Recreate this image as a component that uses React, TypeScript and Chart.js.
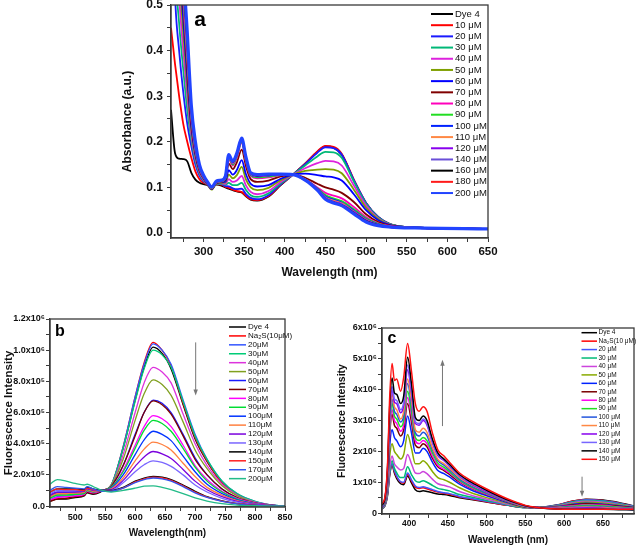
import React, { useEffect, useRef } from "react";
import { Chart, registerables } from "chart.js";

Chart.register(...registerables);

const FONT = "'Liberation Sans', Arial, Helvetica, sans-serif";

/* ---------------- Panel a : absorbance ---------------- */
const XA = [260, 265, 270, 275, 280, 285, 290, 295, 300, 305, 310, 316, 322, 327, 331, 336, 341, 347, 352, 358, 366, 380, 395, 410, 425, 440, 450, 460, 470, 485, 500, 515, 530, 560, 650];
const A_LABELS = ["Dye 4", "10 μM", "20 μM", "30 μM", "40 μM", "50 μM", "60 μM", "70 μM", "80 μM", "90 μM", "100 μM", "110 μM", "120 μM", "140 μM", "160 μM", "180 μM", "200 μM"];
const A_COLORS = ["#000000", "#ff0000", "#1a1aff", "#00b877", "#dd22dd", "#7fa000", "#0000ff", "#800000", "#ff00bb", "#22dd22", "#0022ff", "#ff8844", "#8800ee", "#6a4fd8", "#000000", "#ff1a1a", "#2244ff"];
const A_DYE4 = [0.27, 0.175, 0.163, 0.162, 0.157, 0.132, 0.117, 0.11, 0.107, 0.105, 0.102, 0.106, 0.104, 0.1, 0.097, 0.094, 0.091, 0.089, 0.081, 0.073, 0.071, 0.08, 0.105, 0.128, 0.152, 0.178, 0.19, 0.187, 0.172, 0.115, 0.065, 0.034, 0.019, 0.012, 0.009];
const A_10 = [0.45, 0.37, 0.3, 0.24, 0.2, 0.165, 0.135, 0.118, 0.11, 0.106, 0.101, 0.107, 0.106, 0.101, 0.099, 0.095, 0.092, 0.09, 0.082, 0.074, 0.072, 0.081, 0.106, 0.128, 0.152, 0.179, 0.191, 0.189, 0.174, 0.117, 0.066, 0.035, 0.019, 0.012, 0.009];
const A_20 = [0.85, 0.52, 0.4, 0.31, 0.24, 0.19, 0.15, 0.126, 0.113, 0.107, 0.1, 0.108, 0.107, 0.103, 0.102, 0.098, 0.096, 0.097, 0.086, 0.077, 0.074, 0.083, 0.107, 0.128, 0.151, 0.176, 0.188, 0.186, 0.172, 0.116, 0.066, 0.035, 0.019, 0.012, 0.009];
const A_30 = [1.0, 0.6, 0.46, 0.36, 0.27, 0.205, 0.158, 0.13, 0.115, 0.106, 0.097, 0.108, 0.108, 0.106, 0.11, 0.105, 0.105, 0.11, 0.095, 0.083, 0.079, 0.087, 0.109, 0.128, 0.148, 0.168, 0.178, 0.177, 0.165, 0.113, 0.064, 0.034, 0.019, 0.012, 0.009];
const A_40 = [1.1, 0.7, 0.52, 0.4, 0.3, 0.215, 0.163, 0.133, 0.117, 0.106, 0.096, 0.109, 0.109, 0.108, 0.118, 0.112, 0.115, 0.125, 0.105, 0.09, 0.085, 0.092, 0.112, 0.128, 0.142, 0.153, 0.158, 0.157, 0.148, 0.104, 0.06, 0.032, 0.018, 0.012, 0.009];
const A_50 = [1.2, 0.8, 0.58, 0.44, 0.32, 0.225, 0.168, 0.135, 0.119, 0.106, 0.095, 0.109, 0.11, 0.111, 0.128, 0.12, 0.127, 0.145, 0.118, 0.1, 0.094, 0.099, 0.116, 0.128, 0.136, 0.139, 0.14, 0.139, 0.131, 0.095, 0.055, 0.03, 0.018, 0.012, 0.009];
const A_60 = [1.25, 0.9, 0.62, 0.47, 0.34, 0.232, 0.172, 0.137, 0.12, 0.107, 0.096, 0.11, 0.111, 0.113, 0.138, 0.128, 0.138, 0.16, 0.13, 0.108, 0.102, 0.105, 0.119, 0.128, 0.13, 0.127, 0.124, 0.122, 0.115, 0.085, 0.05, 0.028, 0.017, 0.012, 0.009];
const A_70 = [1.3, 1.0, 0.68, 0.5, 0.36, 0.24, 0.176, 0.139, 0.121, 0.108, 0.097, 0.11, 0.112, 0.117, 0.152, 0.14, 0.155, 0.183, 0.148, 0.118, 0.112, 0.115, 0.124, 0.128, 0.121, 0.108, 0.1, 0.095, 0.088, 0.068, 0.041, 0.024, 0.016, 0.011, 0.009];
const A_80 = [1.35, 1.05, 0.75, 0.52, 0.38, 0.25, 0.18, 0.141, 0.122, 0.109, 0.098, 0.111, 0.113, 0.12, 0.162, 0.148, 0.165, 0.198, 0.158, 0.125, 0.12, 0.122, 0.127, 0.128, 0.118, 0.1, 0.088, 0.082, 0.076, 0.057, 0.035, 0.021, 0.015, 0.011, 0.009];
const A_90 = [1.4, 1.1, 0.8, 0.53, 0.39, 0.255, 0.183, 0.143, 0.123, 0.11, 0.098, 0.111, 0.113, 0.121, 0.165, 0.15, 0.168, 0.2, 0.161, 0.127, 0.122, 0.124, 0.127, 0.128, 0.117, 0.098, 0.083, 0.076, 0.07, 0.052, 0.032, 0.02, 0.014, 0.011, 0.009];
const A_100 = [1.4, 1.1, 0.82, 0.54, 0.4, 0.26, 0.185, 0.144, 0.124, 0.11, 0.099, 0.112, 0.114, 0.122, 0.167, 0.152, 0.17, 0.203, 0.163, 0.128, 0.124, 0.126, 0.128, 0.128, 0.117, 0.097, 0.08, 0.073, 0.067, 0.049, 0.03, 0.019, 0.014, 0.011, 0.009];
const A_110 = [1.45, 1.15, 0.85, 0.55, 0.4, 0.263, 0.187, 0.145, 0.124, 0.111, 0.099, 0.112, 0.114, 0.123, 0.168, 0.153, 0.171, 0.204, 0.164, 0.129, 0.125, 0.127, 0.128, 0.128, 0.117, 0.096, 0.078, 0.071, 0.065, 0.047, 0.029, 0.018, 0.014, 0.011, 0.009];
const A_120 = [1.45, 1.15, 0.86, 0.56, 0.41, 0.266, 0.189, 0.146, 0.125, 0.111, 0.1, 0.112, 0.114, 0.123, 0.169, 0.154, 0.172, 0.205, 0.165, 0.13, 0.125, 0.127, 0.128, 0.128, 0.117, 0.096, 0.077, 0.069, 0.063, 0.046, 0.028, 0.018, 0.013, 0.011, 0.009];
const A_140 = [1.5, 1.2, 0.88, 0.57, 0.42, 0.27, 0.191, 0.147, 0.125, 0.111, 0.1, 0.113, 0.115, 0.124, 0.17, 0.155, 0.173, 0.206, 0.166, 0.13, 0.126, 0.128, 0.128, 0.128, 0.117, 0.095, 0.076, 0.068, 0.062, 0.045, 0.027, 0.017, 0.013, 0.011, 0.009];
const A_160 = [1.5, 1.2, 0.9, 0.58, 0.42, 0.272, 0.193, 0.148, 0.126, 0.112, 0.1, 0.113, 0.115, 0.124, 0.17, 0.156, 0.174, 0.206, 0.166, 0.131, 0.126, 0.128, 0.129, 0.128, 0.116, 0.095, 0.075, 0.067, 0.061, 0.044, 0.026, 0.017, 0.013, 0.011, 0.009];
const A_180 = [1.5, 1.2, 0.9, 0.59, 0.43, 0.275, 0.195, 0.149, 0.126, 0.112, 0.1, 0.113, 0.115, 0.125, 0.171, 0.156, 0.174, 0.207, 0.167, 0.131, 0.127, 0.129, 0.129, 0.128, 0.116, 0.095, 0.075, 0.067, 0.06, 0.043, 0.025, 0.016, 0.013, 0.011, 0.009];
const A_200 = [1.5, 1.2, 0.92, 0.6, 0.44, 0.28, 0.2, 0.15, 0.127, 0.112, 0.101, 0.114, 0.116, 0.125, 0.172, 0.157, 0.175, 0.208, 0.168, 0.132, 0.128, 0.129, 0.129, 0.128, 0.116, 0.094, 0.074, 0.066, 0.06, 0.042, 0.024, 0.016, 0.013, 0.011, 0.009];
const A_SERIES = [A_DYE4, A_10, A_20, A_30, A_40, A_50, A_60, A_70, A_80, A_90, A_100, A_110, A_120, A_140, A_160, A_180, A_200];
const A_XTICKS = [275, 300, 325, 350, 375, 400, 425, 450, 475, 500, 525, 550, 575, 600, 625, 650];
const A_XLABELS = [300, 350, 400, 450, 500, 550, 600, 650];
const A_YTICKS = [0, 0.05, 0.1, 0.15, 0.2, 0.25, 0.3, 0.35, 0.4, 0.45, 0.5];
const A_YMAJOR = [0, 0.1, 0.2, 0.3, 0.4, 0.5];
const A_YTEXT = ["0.0", "0.1", "0.2", "0.3", "0.4", "0.5"];

/* ---------------- Panel b : fluorescence (units of 1e5) ---------------- */
const XB = [458, 470, 485, 500, 515, 520, 530, 545, 560, 580, 600, 615, 630, 645, 660, 680, 700, 720, 745, 770, 800, 830, 850];
const B_LABELS = ["Dye 4", "Na₂S(10μM)", "20μM", "30μM", "40μM", "50μM", "60μM", "70μM", "80μM", "90μM", "100μM", "110μM", "120μM", "130μM", "140μM", "150μM", "170μM", "200μM"];
const B_COLORS = ["#000000", "#ff0000", "#3355ff", "#00cc77", "#dd33dd", "#80a020", "#1a1aff", "#7a0000", "#ff00ff", "#00dd33", "#0033ff", "#ff8040", "#7a00dd", "#7a66ff", "#000000", "#ff2020", "#3355ee", "#22bb88"];
const B_DYE4 = [0.3, 0.45, 0.45, 0.55, 0.65, 0.85, 0.75, 0.95, 1.3, 3.7, 6.8, 8.9, 10.2, 9.8, 8.8, 6.5, 4.3, 2.85, 1.5, 0.75, 0.25, 0.05, 0];
const B_10 = [0.35, 0.5, 0.5, 0.6, 0.7, 0.9, 0.8, 1.0, 1.35, 3.8, 7.0, 9.2, 10.5, 10.0, 9.0, 6.6, 4.4, 2.9, 1.5, 0.75, 0.25, 0.05, 0];
const B_20 = [0.4, 0.6, 0.6, 0.7, 0.75, 0.95, 0.85, 1.0, 1.35, 3.8, 7.0, 9.1, 10.4, 10.0, 9.1, 6.8, 4.6, 3.0, 1.6, 0.8, 0.3, 0.06, 0];
const B_30 = [0.5, 0.7, 0.7, 0.75, 0.8, 1.0, 0.9, 1.0, 1.35, 3.7, 6.7, 8.8, 10.0, 9.7, 8.9, 6.7, 4.5, 3.0, 1.6, 0.8, 0.3, 0.06, 0];
const B_40 = [0.55, 0.75, 0.75, 0.8, 0.85, 1.05, 0.95, 1.0, 1.3, 3.3, 6.0, 7.9, 8.9, 8.6, 7.9, 5.9, 4.0, 2.6, 1.4, 0.7, 0.25, 0.05, 0];
const B_50 = [0.6, 0.8, 0.8, 0.85, 0.9, 1.1, 1.0, 1.0, 1.3, 3.0, 5.5, 7.2, 8.1, 7.8, 7.1, 5.4, 3.6, 2.4, 1.3, 0.65, 0.22, 0.05, 0];
const B_60 = [0.65, 0.85, 0.85, 0.9, 0.95, 1.15, 1.05, 1.0, 1.25, 2.6, 4.6, 6.0, 6.8, 6.6, 6.0, 4.6, 3.1, 2.0, 1.1, 0.55, 0.2, 0.04, 0];
const B_70 = [0.3, 0.45, 0.5, 0.6, 0.7, 0.9, 0.8, 1.0, 1.25, 2.6, 4.5, 6.0, 6.75, 6.5, 5.9, 4.5, 3.0, 2.0, 1.1, 0.55, 0.2, 0.04, 0];
const B_80 = [0.4, 0.55, 0.6, 0.65, 0.75, 0.95, 0.85, 1.0, 1.2, 2.3, 3.9, 5.1, 5.8, 5.6, 5.1, 3.9, 2.6, 1.7, 0.95, 0.5, 0.18, 0.04, 0];
const B_90 = [0.5, 0.7, 0.7, 0.75, 0.8, 1.0, 0.9, 1.0, 1.2, 2.2, 3.7, 4.85, 5.5, 5.3, 4.8, 3.7, 2.5, 1.6, 0.9, 0.45, 0.16, 0.03, 0];
const B_100 = [0.7, 0.9, 0.9, 0.9, 0.95, 1.1, 1.0, 1.0, 1.15, 2.0, 3.3, 4.25, 4.8, 4.6, 4.2, 3.2, 2.2, 1.4, 0.8, 0.4, 0.14, 0.03, 0];
const B_110 = [0.6, 0.8, 0.8, 0.85, 0.9, 1.05, 0.95, 1.0, 1.1, 1.8, 2.9, 3.65, 4.1, 3.95, 3.6, 2.75, 1.9, 1.2, 0.7, 0.35, 0.12, 0.03, 0];
const B_120 = [0.7, 0.9, 0.9, 0.9, 0.95, 1.1, 1.0, 1.0, 1.05, 1.65, 2.55, 3.15, 3.5, 3.35, 3.05, 2.35, 1.6, 1.05, 0.6, 0.3, 0.1, 0.02, 0];
const B_130 = [0.8, 1.0, 1.0, 1.0, 1.0, 1.15, 1.05, 1.0, 1.0, 1.5, 2.2, 2.65, 2.9, 2.8, 2.55, 2.0, 1.35, 0.9, 0.5, 0.25, 0.08, 0.02, 0];
const B_140 = [0.9, 1.1, 1.1, 1.1, 1.05, 1.2, 1.1, 1.0, 1.0, 1.2, 1.6, 1.8, 1.9, 1.85, 1.7, 1.35, 0.95, 0.6, 0.33, 0.15, 0.05, 0.01, 0];
const B_150 = [0.9, 1.1, 1.05, 1.05, 1.0, 1.15, 1.05, 0.95, 0.95, 1.15, 1.55, 1.75, 1.85, 1.8, 1.65, 1.3, 0.9, 0.58, 0.32, 0.15, 0.05, 0.01, 0];
const B_170 = [1.0, 1.25, 1.2, 1.15, 1.1, 1.25, 1.1, 0.95, 0.95, 1.15, 1.5, 1.7, 1.8, 1.75, 1.6, 1.25, 0.85, 0.55, 0.3, 0.14, 0.04, 0.01, 0];
const B_200 = [1.4, 1.7, 1.6, 1.45, 1.35, 1.4, 1.25, 1.0, 0.9, 1.0, 1.15, 1.28, 1.3, 1.2, 1.05, 0.8, 0.52, 0.32, 0.15, 0.06, 0.02, 0, 0];
const B_SERIES = [B_DYE4, B_10, B_20, B_30, B_40, B_50, B_60, B_70, B_80, B_90, B_100, B_110, B_120, B_130, B_140, B_150, B_170, B_200];
const B_XTICKS = [475, 500, 525, 550, 575, 600, 625, 650, 675, 700, 725, 750, 775, 800, 825, 850];
const B_XLABELS = [500, 550, 600, 650, 700, 750, 800, 850];
const B_YTICKS = [0, 1, 2, 3, 4, 5, 6, 7, 8, 9, 10, 11, 12];
const B_YMAJOR = [0, 2, 4, 6, 8, 10, 12];
const B_YTEXT = ["0.0", "2.0x10⁵", "4.0x10⁵", "6.0x10⁵", "8.0x10⁵", "1.0x10⁶", "1.2x10⁶"];

/* ---------------- Panel c : fluorescence (units of 1e6) ---------------- */
const XC = [365, 369, 372, 375, 378, 381, 384, 389, 393, 398, 403, 408, 413, 418, 423, 430, 437, 445, 452, 465, 480, 500, 525, 550, 565, 590, 610, 628, 650, 670, 690];
const C_LABELS = ["Dye 4", "Na₂S(10 μM)", "20 μM", "30 μM", "40 μM", "50 μM", "60 μM", "70 μM", "80 μM", "90 μM", "100 μM", "110 μM", "120 μM", "130 μM", "140 μM", "150 μM"];
const C_COLORS = ["#000000", "#ff0000", "#4455ff", "#00bb77", "#cc44dd", "#88aa00", "#0022ff", "#7a0000", "#ff00ee", "#22dd22", "#2255dd", "#ff8844", "#8800ee", "#7766ff", "#000000", "#ff1111"];
const C_DYE4 = [0.13, 0.25, 0.55, 1.25, 1.55, 1.3, 1.12, 0.95, 0.92, 1.2, 0.98, 0.76, 0.7, 0.72, 0.7, 0.66, 0.62, 0.6, 0.57, 0.5, 0.44, 0.36, 0.26, 0.18, 0.18, 0.26, 0.38, 0.45, 0.42, 0.34, 0.23];
const C_10 = [0.14, 0.26, 0.6, 1.28, 1.58, 1.35, 1.17, 1.0, 0.97, 1.25, 1.04, 0.84, 0.8, 0.82, 0.79, 0.73, 0.68, 0.64, 0.61, 0.52, 0.46, 0.37, 0.26, 0.18, 0.18, 0.25, 0.38, 0.44, 0.41, 0.33, 0.22];
const C_20 = [0.14, 0.26, 0.6, 1.3, 1.6, 1.38, 1.2, 1.02, 1.0, 1.3, 1.08, 0.88, 0.83, 0.85, 0.82, 0.76, 0.7, 0.66, 0.63, 0.54, 0.47, 0.38, 0.27, 0.18, 0.18, 0.25, 0.37, 0.43, 0.4, 0.32, 0.22];
const C_30 = [0.15, 0.28, 0.65, 1.35, 1.7, 1.45, 1.3, 1.15, 1.15, 1.5, 1.25, 1.05, 1.0, 1.05, 1.0, 0.9, 0.8, 0.76, 0.72, 0.6, 0.52, 0.41, 0.28, 0.18, 0.18, 0.24, 0.35, 0.41, 0.38, 0.3, 0.21];
const C_40 = [0.16, 0.3, 0.7, 1.5, 1.85, 1.6, 1.5, 1.4, 1.45, 1.9, 1.6, 1.3, 1.28, 1.35, 1.28, 1.1, 0.95, 0.9, 0.85, 0.7, 0.58, 0.45, 0.3, 0.19, 0.18, 0.23, 0.33, 0.38, 0.35, 0.28, 0.2];
const C_50 = [0.17, 0.32, 0.8, 1.85, 2.25, 2.0, 1.9, 1.75, 1.9, 2.55, 2.1, 1.6, 1.6, 1.7, 1.6, 1.35, 1.15, 1.08, 1.0, 0.82, 0.66, 0.5, 0.33, 0.19, 0.18, 0.22, 0.3, 0.35, 0.32, 0.26, 0.19];
const C_60 = [0.18, 0.35, 0.9, 2.2, 2.7, 2.45, 2.35, 2.15, 2.35, 3.15, 2.6, 1.95, 1.95, 2.1, 2.0, 1.65, 1.38, 1.28, 1.17, 0.94, 0.75, 0.56, 0.36, 0.2, 0.18, 0.21, 0.28, 0.32, 0.29, 0.24, 0.18];
const C_70 = [0.2, 0.4, 1.0, 2.55, 3.2, 2.85, 2.75, 2.5, 2.7, 3.55, 2.95, 2.2, 2.12, 2.25, 2.15, 1.78, 1.5, 1.38, 1.25, 1.0, 0.8, 0.6, 0.38, 0.2, 0.18, 0.2, 0.26, 0.3, 0.27, 0.22, 0.17];
const C_80 = [0.2, 0.4, 1.05, 2.65, 3.35, 3.0, 2.9, 2.65, 2.85, 3.75, 3.15, 2.35, 2.25, 2.35, 2.25, 1.85, 1.55, 1.42, 1.3, 1.03, 0.82, 0.61, 0.39, 0.21, 0.18, 0.19, 0.24, 0.27, 0.25, 0.2, 0.16];
const C_90 = [0.22, 0.42, 1.1, 2.8, 3.55, 3.15, 3.05, 2.8, 3.0, 3.95, 3.3, 2.45, 2.35, 2.45, 2.35, 1.95, 1.62, 1.48, 1.34, 1.06, 0.85, 0.63, 0.4, 0.21, 0.18, 0.18, 0.22, 0.25, 0.23, 0.19, 0.15];
const C_100 = [0.22, 0.45, 1.15, 2.95, 3.7, 3.3, 3.2, 2.95, 3.15, 4.2, 3.5, 2.6, 2.5, 2.62, 2.5, 2.05, 1.7, 1.55, 1.4, 1.1, 0.88, 0.65, 0.41, 0.22, 0.18, 0.17, 0.2, 0.22, 0.2, 0.17, 0.14];
const C_110 = [0.25, 0.45, 1.2, 3.05, 3.85, 3.45, 3.35, 3.05, 3.3, 4.35, 3.65, 2.7, 2.62, 2.75, 2.62, 2.12, 1.75, 1.6, 1.45, 1.15, 0.92, 0.68, 0.42, 0.22, 0.18, 0.16, 0.18, 0.2, 0.18, 0.16, 0.13];
const C_120 = [0.25, 0.5, 1.3, 3.2, 4.0, 3.6, 3.55, 3.25, 3.5, 4.65, 3.9, 2.9, 2.85, 3.0, 2.85, 2.28, 1.86, 1.7, 1.52, 1.2, 0.95, 0.7, 0.43, 0.23, 0.18, 0.15, 0.16, 0.17, 0.16, 0.14, 0.12];
const C_130 = [0.25, 0.5, 1.3, 3.3, 4.1, 3.7, 3.65, 3.35, 3.6, 4.8, 4.0, 2.95, 2.9, 3.05, 2.9, 2.33, 1.9, 1.72, 1.55, 1.22, 0.97, 0.72, 0.44, 0.23, 0.18, 0.14, 0.14, 0.15, 0.14, 0.13, 0.11];
const C_140 = [0.25, 0.5, 1.4, 3.5, 4.38, 3.9, 3.85, 3.55, 3.8, 5.05, 4.2, 3.1, 3.0, 3.15, 3.0, 2.4, 1.95, 1.75, 1.58, 1.25, 1.0, 0.74, 0.45, 0.24, 0.18, 0.13, 0.12, 0.12, 0.12, 0.11, 0.1];
const C_150 = [0.3, 0.55, 1.5, 3.8, 4.85, 4.3, 4.35, 3.95, 4.4, 5.5, 4.6, 3.55, 3.3, 3.45, 3.3, 2.6, 2.05, 1.85, 1.65, 1.3, 1.05, 0.78, 0.48, 0.25, 0.18, 0.13, 0.12, 0.12, 0.12, 0.12, 0.12];
const C_SERIES = [C_DYE4, C_10, C_20, C_30, C_40, C_50, C_60, C_70, C_80, C_90, C_100, C_110, C_120, C_130, C_140, C_150];
const C_XTICKS = [375, 400, 425, 450, 475, 500, 525, 550, 575, 600, 625, 650, 675];
const C_XLABELS = [400, 450, 500, 550, 600, 650];
const C_YTICKS = [0, 0.5, 1, 1.5, 2, 2.5, 3, 3.5, 4, 4.5, 5, 5.5, 6];
const C_YMAJOR = [0, 1, 2, 3, 4, 5, 6];
const C_YTEXT = ["0", "1x10⁶", "2x10⁶", "3x10⁶", "4x10⁶", "5x10⁶", "6x10⁶"];

/* ---------------- helpers ---------------- */
type Deco = {
  offX: number;
  offY: number;
  legend: { x1: number; x2: number; tx: number; y0: number; dy: number; size: number; lw: number };
  letter: { text: string; x: number; y: number; size: number };
  arrows: { x: number; y1: number; y2: number }[];
};

function decoPlugin(d: Deco) {
  return {
    id: "deco",
    afterDraw(chart: any) {
      const ctx = chart.ctx as CanvasRenderingContext2D;
      const ca = chart.chartArea;
      ctx.save();
      ctx.strokeStyle = "#3a3a3a";
      ctx.lineWidth = 1.3;
      ctx.strokeRect(ca.left, ca.top, ca.right - ca.left, ca.bottom - ca.top);
      const xs = chart.scales.x;
      const ys = chart.scales.y;
      ctx.strokeStyle = "#777";
      ctx.fillStyle = "#777";
      ctx.lineWidth = 1;
      for (const a of d.arrows) {
        const x = xs.getPixelForValue(a.x);
        const y1 = ys.getPixelForValue(a.y1);
        const y2 = ys.getPixelForValue(a.y2);
        const dir = y2 > y1 ? 1 : -1;
        ctx.beginPath();
        ctx.moveTo(x, y1);
        ctx.lineTo(x, y2 - dir * 4);
        ctx.stroke();
        ctx.beginPath();
        ctx.moveTo(x, y2);
        ctx.lineTo(x - 2.2, y2 - dir * 6);
        ctx.lineTo(x + 2.2, y2 - dir * 6);
        ctx.closePath();
        ctx.fill();
      }
      const L = d.legend;
      ctx.textAlign = "left";
      ctx.textBaseline = "middle";
      ctx.font = `${L.size}px ${FONT}`;
      chart.data.datasets.forEach((ds: any, i: number) => {
        const y = L.y0 - d.offY + i * L.dy;
        ctx.strokeStyle = ds.borderColor;
        ctx.lineWidth = L.lw;
        ctx.beginPath();
        ctx.moveTo(L.x1 - d.offX, y);
        ctx.lineTo(L.x2 - d.offX, y);
        ctx.stroke();
        ctx.fillStyle = "#111";
        ctx.fillText(ds.label, L.tx - d.offX, y);
      });
      ctx.font = `bold ${d.letter.size}px ${FONT}`;
      ctx.textAlign = "center";
      ctx.fillStyle = "#000";
      ctx.fillText(d.letter.text, d.letter.x - d.offX, d.letter.y - d.offY);
      ctx.restore();
    },
  };
}

type ScaleOpt = {
  min: number;
  max: number;
  ticks: number[];
  label: (v: number) => string;
  fit: number;
  horizontal: boolean;
  tickSize: number;
  tickPad: number;
  title: string;
  titleSize: number;
  titlePad: { top: number; bottom: number };
};

function makeScale(o: ScaleOpt) {
  return {
    type: "linear",
    min: o.min,
    max: o.max,
    afterBuildTicks: (s: any) => {
      s.ticks = o.ticks.map((value) => ({ value }));
    },
    afterFit: (s: any) => {
      if (o.horizontal) s.height = o.fit;
      else s.width = o.fit;
    },
    ticks: {
      autoSkip: false,
      maxRotation: 0,
      minRotation: 0,
      padding: o.tickPad,
      color: "#111",
      font: { family: FONT, size: o.tickSize, weight: "bold" },
      callback: (v: any) => o.label(Number(v)),
    },
    grid: { drawOnChartArea: false, drawTicks: true, tickLength: 4, tickColor: "#3a3a3a", tickWidth: 1 },
    border: { color: "#3a3a3a", width: 1.3 },
    title: {
      display: true,
      text: o.title,
      color: "#111",
      font: { family: FONT, size: o.titleSize, weight: "bold" },
      padding: o.titlePad,
    },
  };
}

function majorLabel(major: number[], text: string[]) {
  return (v: number) => {
    const i = major.findIndex((m) => Math.abs(m - v) < 1e-9);
    return i >= 0 ? text[i] : "";
  };
}
function intLabel(list: number[]) {
  return (v: number) => (list.includes(v) ? String(v) : "");
}

function buildDatasets(xs: number[], series: number[][], labels: string[], colors: string[], widths: (i: number) => number) {
  return series.map((ys, i) => ({
    label: labels[i],
    data: xs.map((x, k) => ({ x, y: ys[k] })),
    borderColor: colors[i],
    backgroundColor: colors[i],
    borderWidth: widths(i),
    pointRadius: 0,
    fill: false,
    cubicInterpolationMode: "monotone",
    order: -i,
  }));
}

type PanelDef = {
  left: number;
  top: number;
  width: number;
  height: number;
  config: () => any;
};

function Panel({ def }: { def: PanelDef }) {
  const ref = useRef<HTMLCanvasElement>(null);
  useEffect(() => {
    const chart = new Chart(ref.current as HTMLCanvasElement, def.config());
    return () => chart.destroy();
  }, []);
  return (
    <canvas
      ref={ref}
      width={def.width}
      height={def.height}
      style={{ position: "absolute", left: def.left, top: def.top, width: def.width, height: def.height }}
    />
  );
}

const baseOptions = (padding: any, scales: any) => ({
  responsive: false,
  animation: false,
  events: [],
  layout: { padding },
  plugins: { legend: { display: false }, tooltip: { enabled: false } },
  scales,
});

const PANEL_A: PanelDef = {
  left: 0,
  top: -15,
  width: 637,
  height: 305,
  config: () => ({
    type: "line",
    data: { datasets: buildDatasets(XA, A_SERIES, A_LABELS, A_COLORS, (i) => (i === A_SERIES.length - 1 ? 3.2 : 1.8)) },
    options: baseOptions(
      { left: 0, top: 20, right: 149, bottom: 0 },
      {
        x: makeScale({ min: 260, max: 650, ticks: A_XTICKS, label: intLabel(A_XLABELS), fit: 52, horizontal: true, tickSize: 11.5, tickPad: 3, title: "Wavelength (nm)", titleSize: 12, titlePad: { top: 0, bottom: 9.8 } }),
        y: makeScale({ min: -0.011, max: 0.5, ticks: A_YTICKS, label: majorLabel(A_YMAJOR, A_YTEXT), fit: 171, horizontal: false, tickSize: 12, tickPad: 4, title: "Absorbance (a.u.)", titleSize: 12, titlePad: { top: 120.8, bottom: 0 } }),
      }
    ),
    plugins: [
      decoPlugin({
        offX: 0,
        offY: -15,
        legend: { x1: 431, x2: 453, tx: 455, y0: 14, dy: 11.19, size: 9.5, lw: 2 },
        letter: { text: "a", x: 200, y: 20, size: 21 },
        arrows: [],
      }),
    ],
  }),
};

const PANEL_B: PanelDef = {
  left: 0,
  top: 290,
  width: 320,
  height: 257,
  config: () => ({
    type: "line",
    data: { datasets: buildDatasets(XB, B_SERIES, B_LABELS, B_COLORS, () => 1.3) },
    options: baseOptions(
      { left: 0, top: 29, right: 35, bottom: 0 },
      {
        x: makeScale({ min: 458, max: 850, ticks: B_XTICKS, label: intLabel(B_XLABELS), fit: 40, horizontal: true, tickSize: 9, tickPad: 1, title: "Wavelength(nm)", titleSize: 10, titlePad: { top: 0, bottom: 8 } }),
        y: makeScale({ min: -0.06, max: 12, ticks: B_YTICKS, label: majorLabel(B_YMAJOR, B_YTEXT), fit: 50, horizontal: false, tickSize: 9, tickPad: 1, title: "Fluorescence Intensity", titleSize: 11.5, titlePad: { top: 1.6, bottom: 0 } }),
      }
    ),
    plugins: [
      decoPlugin({
        offX: 0,
        offY: 290,
        legend: { x1: 229, x2: 246, tx: 248, y0: 327, dy: 8.92, size: 8, lw: 1.5 },
        letter: { text: "b", x: 60, y: 332, size: 16 },
        arrows: [{ x: 701, y1: 10.5, y2: 7.1 }],
      }),
    ],
  }),
};

const PANEL_C: PanelDef = {
  left: 320,
  top: 290,
  width: 317,
  height: 257,
  config: () => ({
    type: "line",
    data: { datasets: buildDatasets(XC, C_SERIES, C_LABELS, C_COLORS, () => 1.5) },
    options: baseOptions(
      { left: 0, top: 38, right: 3, bottom: 0 },
      {
        x: makeScale({ min: 365, max: 690, ticks: C_XTICKS, label: intLabel(C_XLABELS), fit: 33, horizontal: true, tickSize: 8.5, tickPad: 1, title: "Wavelength (nm)", titleSize: 10, titlePad: { top: 0, bottom: 0.3 } }),
        y: makeScale({ min: -0.03, max: 6, ticks: C_YTICKS, label: majorLabel(C_YMAJOR, C_YTEXT), fit: 62, horizontal: false, tickSize: 9, tickPad: 1, title: "Fluorescence Intensity", titleSize: 10.5, titlePad: { top: 15.4, bottom: 0 } }),
      }
    ),
    plugins: [
      decoPlugin({
        offX: 320,
        offY: 290,
        legend: { x1: 581.5, x2: 597, tx: 598.5, y0: 332.7, dy: 8.44, size: 6.5, lw: 1.5 },
        letter: { text: "c", x: 392, y: 339, size: 16 },
        arrows: [
          { x: 443, y1: 2.82, y2: 4.97 },
          { x: 623, y1: 1.18, y2: 0.53 },
        ],
      }),
    ],
  }),
};

export default function App() {
  return (
    <div
      style={{
        position: "fixed",
        left: 0,
        top: 0,
        width: 637,
        height: 547,
        overflow: "hidden",
        background: "#ffffff",
      }}
    >
      <Panel def={PANEL_A} />
      <Panel def={PANEL_B} />
      <Panel def={PANEL_C} />
    </div>
  );
}
